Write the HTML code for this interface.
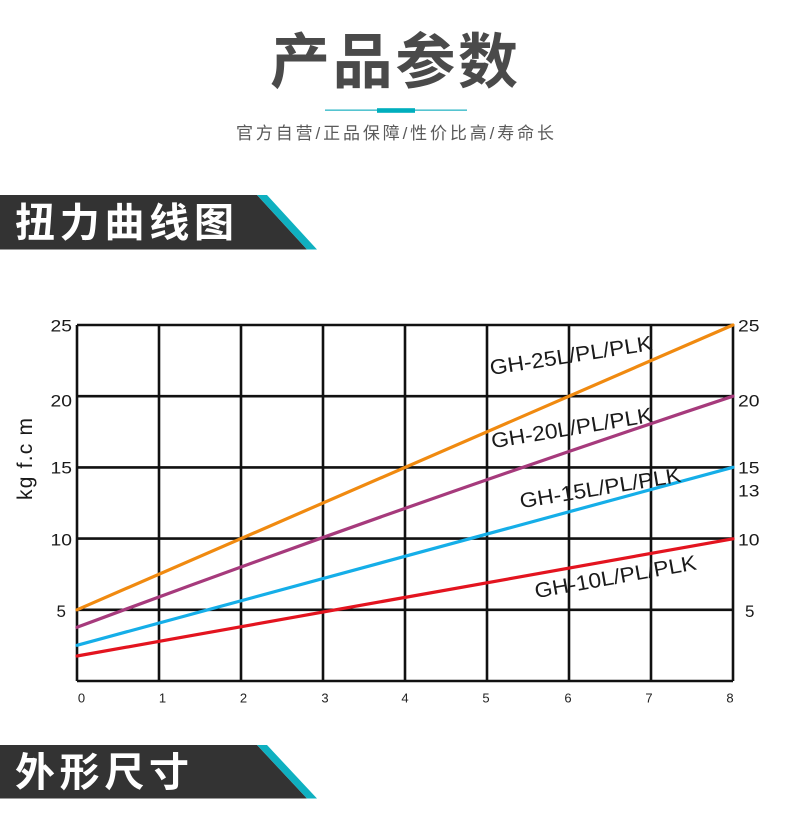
<!DOCTYPE html>
<html>
<head>
<meta charset="utf-8">
<style>
html,body{margin:0;padding:0;background:#fff;}
svg{display:block;}
</style>
</head>
<body>
<svg width="790" height="838" viewBox="0 0 790 838" xmlns="http://www.w3.org/2000/svg">
  <rect x="0" y="0" width="790" height="838" fill="#ffffff"/>

  <!-- Title -->
  <text x="270" y="83" font-family="'Liberation Sans','Noto Sans CJK SC',sans-serif" font-size="60" font-weight="bold" fill="#4a4a4a" textLength="248" lengthAdjust="spacing">产品参数</text>
  <rect x="325" y="109.5" width="142" height="1.3" fill="#2bb5c5"/>
  <rect x="377" y="108.2" width="38" height="4.6" fill="#00aebd"/>
  <text x="236" y="139" font-family="'Liberation Sans','Noto Sans CJK SC',sans-serif" font-size="17" fill="#5a5a5a" textLength="318" lengthAdjust="spacing">官方自营/正品保障/性价比高/寿命长</text>

  <!-- Banner 1 -->
  <polygon points="0,195 257,195 307,249.5 0,249.5" fill="#333333"/>
  <polygon points="257,195 267,195 317,249.5 307,249.5" fill="#0fb0c0"/>
  <text x="15" y="236.5" font-family="'Liberation Sans','Noto Sans CJK SC',sans-serif" font-size="40" font-weight="bold" fill="#ffffff" textLength="219" lengthAdjust="spacing">扭力曲线图</text>

  <!-- Chart grid -->
  <g stroke="#111" stroke-width="2.6" fill="none">
    <line x1="77" y1="325" x2="733" y2="325"/>
    <line x1="77" y1="396.2" x2="733" y2="396.2"/>
    <line x1="77" y1="467.4" x2="733" y2="467.4"/>
    <line x1="77" y1="538.6" x2="733" y2="538.6"/>
    <line x1="77" y1="609.8" x2="733" y2="609.8"/>
    <line x1="77" y1="681" x2="733" y2="681"/>
    <line x1="77" y1="325" x2="77" y2="681"/>
    <line x1="159" y1="325" x2="159" y2="681"/>
    <line x1="241" y1="325" x2="241" y2="681"/>
    <line x1="323" y1="325" x2="323" y2="681"/>
    <line x1="405" y1="325" x2="405" y2="681"/>
    <line x1="487" y1="325" x2="487" y2="681"/>
    <line x1="569" y1="325" x2="569" y2="681"/>
    <line x1="651" y1="325" x2="651" y2="681"/>
    <line x1="733" y1="325" x2="733" y2="681"/>
  </g>

  <!-- Series -->
  <g fill="none" stroke-width="3.2" stroke-linecap="round">
    <line x1="77" y1="656" x2="733" y2="538.8" stroke="#e3141f"/>
    <line x1="77" y1="645.3" x2="733" y2="467.3" stroke="#15aee8"/>
    <path d="M77,627.3 Q405,505 733,396.2" stroke="#a63a7c"/>
    <line x1="77" y1="609.8" x2="733" y2="325" stroke="#f08a10"/>
  </g>

  <!-- Left y labels -->
  <g font-family="'Liberation Sans',sans-serif" font-size="17" fill="#1a1a1a" text-anchor="end">
    <text x="72" y="331.5" textLength="21.5" lengthAdjust="spacingAndGlyphs">25</text>
    <text x="72" y="406.5" textLength="21.5" lengthAdjust="spacingAndGlyphs">20</text>
    <text x="72" y="473.3" textLength="21.5" lengthAdjust="spacingAndGlyphs">15</text>
    <text x="72" y="545.3" textLength="21.5" lengthAdjust="spacingAndGlyphs">10</text>
    <text x="66" y="616.8">5</text>
  </g>
  <!-- Right y labels -->
  <g font-family="'Liberation Sans',sans-serif" font-size="17" fill="#1a1a1a">
    <text x="738" y="331.5" textLength="21.5" lengthAdjust="spacingAndGlyphs">25</text>
    <text x="738" y="406.5" textLength="21.5" lengthAdjust="spacingAndGlyphs">20</text>
    <text x="738" y="473.3" textLength="21.5" lengthAdjust="spacingAndGlyphs">15</text>
    <text x="738" y="496.3" textLength="21.5" lengthAdjust="spacingAndGlyphs">13</text>
    <text x="738" y="545.3" textLength="21.5" lengthAdjust="spacingAndGlyphs">10</text>
    <text x="745" y="616.8">5</text>
  </g>

  <!-- X labels -->
  <g font-family="'Liberation Sans',sans-serif" font-size="13" fill="#222" text-anchor="middle">
    <text x="81.5" y="702.5">0</text>
    <text x="162.5" y="702.5">1</text>
    <text x="243.5" y="702.5">2</text>
    <text x="325" y="702.5">3</text>
    <text x="405" y="702.5">4</text>
    <text x="486" y="702.5">5</text>
    <text x="568" y="702.5">6</text>
    <text x="649" y="702.5">7</text>
    <text x="730" y="702.5">8</text>
  </g>

  <!-- Y axis title -->
  <text transform="rotate(-90)" x="-459" y="32" text-anchor="middle" font-family="'Liberation Sans',sans-serif" font-size="21" fill="#1a1a1a" textLength="82" lengthAdjust="spacing">kg f.c m</text>

  <!-- Series labels -->
  <g font-family="'Liberation Sans',sans-serif" font-size="21" fill="#1a1a1a">
    <text transform="translate(491,375) rotate(-8.8)" textLength="164" lengthAdjust="spacingAndGlyphs">GH-25L/PL/PLK</text>
    <text transform="translate(492.5,448.3) rotate(-9.4)" textLength="163" lengthAdjust="spacingAndGlyphs">GH-20L/PL/PLK</text>
    <text transform="translate(521,508.3) rotate(-9.4)" textLength="163" lengthAdjust="spacingAndGlyphs">GH-15L/PL/PLK</text>
    <text transform="translate(536,598.3) rotate(-10.2)" textLength="164" lengthAdjust="spacingAndGlyphs">GH-10L/PL/PLK</text>
  </g>

  <!-- Banner 2 -->
  <polygon points="0,745 257,745 307,798.5 0,798.5" fill="#333333"/>
  <polygon points="257,745 267,745 317,798.5 307,798.5" fill="#0fb0c0"/>
  <text x="15" y="786" font-family="'Liberation Sans','Noto Sans CJK SC',sans-serif" font-size="40" font-weight="bold" fill="#ffffff" textLength="174" lengthAdjust="spacing">外形尺寸</text>
</svg>
</body>
</html>
